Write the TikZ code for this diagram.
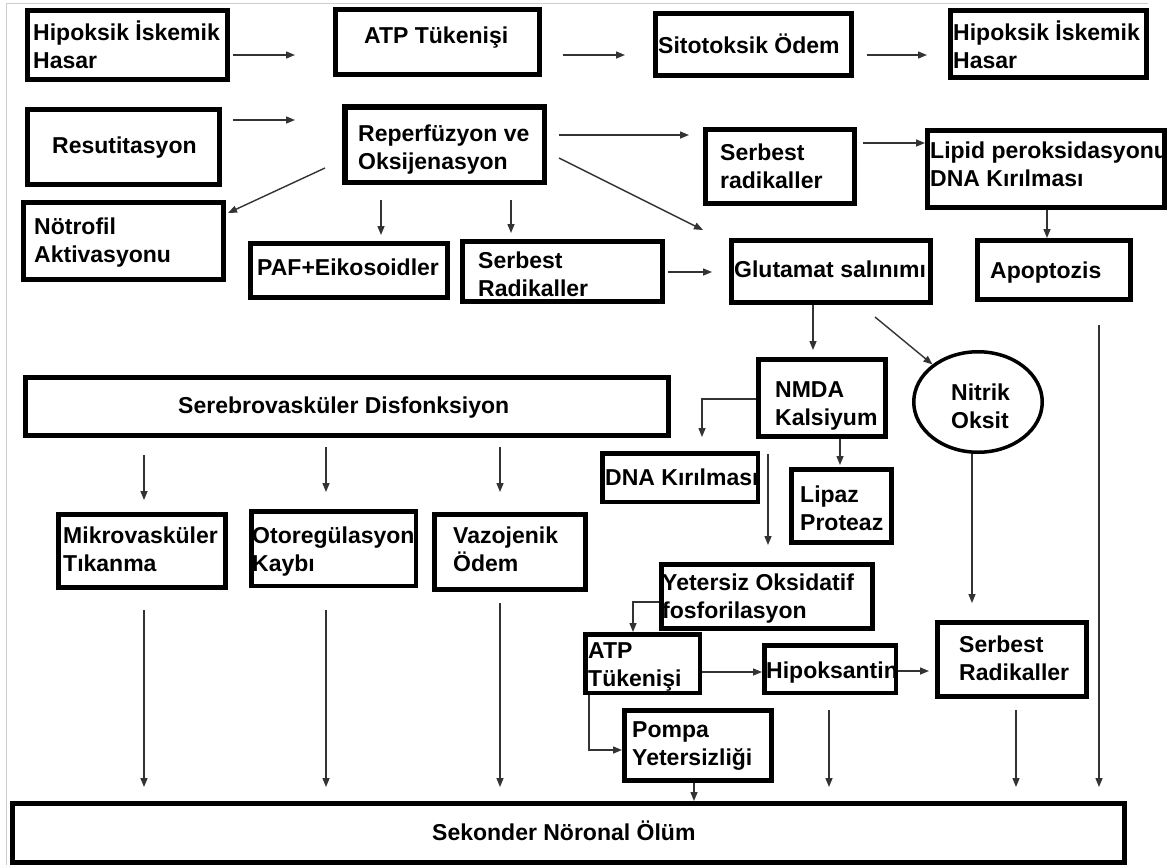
\documentclass[tikz,border=0pt]{standalone}
\usepackage{fontspec}
\setmainfont{Liberation Sans}
\usetikzlibrary{arrows.meta,calc,shapes.geometric}
\tikzset{
  box/.style={draw=black, fill=white, inner sep=0pt, rectangle},
  txt/.style={anchor=base west, inner sep=0pt, font=\fontsize{23}{28}\selectfont\bfseries},
  arr/.style={draw=black!80, line width=1.4pt, -{Triangle[length=9pt,width=7pt]}}
}
% name x1 y1 x2 y2 linewidth
\newcommand\mybx[6]{\node[box, line width=#6pt, minimum width={(#4-#2-#6)*1pt}, minimum height={(#5-#3-#6)*1pt}] (#1) at ({(#2+#4)/2},{(#3+#5)/2}) {};}
% name x baseline text
\newcommand\mytx[4]{\node[txt] (#1) at (#2,#3) {\begin{tabular}[t]{@{}l@{}}#4\end{tabular}};}
\begin{document}
\begin{tikzpicture}[x=1pt,y=-1pt]
\useasboundingbox (0,0) rectangle (1173,865);
\fill[white] (0,0) rectangle (1173,865);
\draw[black!20, line width=1pt] (6,865) -- (6,3) -- (1148,3);

% boxes
\mybx{h1}{25}{8}{230}{82}{5}
\mytx{h1t}{33}{40}{Hipoksik İskemik\\Hasar}
\mybx{atp1}{333}{7}{542}{77}{5}
\mytx{atp1t}{364}{43}{ATP Tükenişi}
\mybx{sito}{653}{11}{854}{78}{5}
\mytx{sitot}{658}{53}{Sitotoksik Ödem}
\mybx{h2}{948}{8}{1149}{80}{5}
\mytx{h2t}{953}{40}{Hipoksik İskemik\\Hasar}

\mybx{res}{25}{107}{222}{187}{5}
\mytx{rest}{52}{153}{Resutitasyon}
\mybx{rep}{342}{104}{547}{185}{5.5}
\mytx{rept}{358}{141}{Reperfüzyon ve\\Oksijenasyon}
\mybx{sr1}{703}{127}{857}{206}{5}
\mytx{sr1t}{720}{160}{Serbest\\radikaller}
\mybx{lip}{925}{128}{1167}{210}{5}
\mytx{lipt}{930}{158}{Lipid peroksidasyonu\\DNA Kırılması}

\mybx{notr}{21}{200}{226}{282}{5}
\mytx{notrt}{34}{234}{Nötrofil\\Aktivasyonu}
\mybx{paf}{248}{241}{450}{300}{5}
\mytx{paft}{257}{275}{PAF+Eikosoidler}
\mybx{sr2}{460}{239}{665}{304}{5}
\mytx{sr2t}{478}{268}{Serbest\\Radikaller}
\mybx{glut}{729}{238}{933}{305}{5}
\mytx{glutt}{734}{277}{Glutamat salınımı}
\mybx{apo}{975}{238}{1133}{302}{5}
\mytx{apot}{990}{278}{Apoptozis}

\mybx{serebro}{23}{375}{671}{438}{5}
\mytx{serebrot}{178}{413}{Serebrovasküler Disfonksiyon}
\mybx{nmda}{756}{357}{888}{439}{5}
\mytx{nmdat}{775}{397}{NMDA\\Kalsiyum}
\node[ellipse, draw=black, fill=white, line width=3.5pt, inner sep=0pt, minimum width=128.5pt, minimum height=100.5pt] (nitrik) at (978,402) {};
\mytx{nitrikt}{951}{400}{Nitrik\\Oksit}
\mybx{dna}{600}{451}{760}{504}{4.5}
\mytx{dnat}{605}{485}{DNA Kırılması}
\mybx{lipaz}{789}{467}{894}{545}{5}
\mytx{lipazt}{800}{502}{Lipaz\\Proteaz}

\mybx{mikro}{56}{512}{228}{590}{5}
\mytx{mikrot}{63}{543}{Mikrovasküler\\Tıkanma}
\mybx{oto}{249}{509}{418}{588}{4.5}
\mytx{otot}{252}{543}{Otoregülasyon\\Kaybı}
\mybx{vazo}{432}{512}{588}{592}{5}
\mytx{vazot}{453}{543}{Vazojenik\\Ödem}

\mybx{yet}{659}{562}{875}{631}{5}
\mytx{yett}{662}{590}{Yetersiz Oksidatif\\fosforilasyon}
\mybx{atp2}{583}{632}{702}{695}{4.5}
\mytx{atp2t}{588}{658}{ATP\\Tükenişi}
\mybx{hip}{762}{643}{898}{695}{4.5}
\mytx{hipt}{766}{678}{Hipoksantin}
\mybx{srr}{935}{620}{1089}{699}{5}
\mytx{srrt}{959}{652}{Serbest\\Radikaller}
\mybx{pompa}{622}{708}{774}{783}{5}
\mytx{pompat}{632}{737}{Pompa\\Yetersizliği}

\mybx{sek}{10}{801}{1127}{865}{5}
\mytx{sekt}{432}{840}{Sekonder Nöronal Ölüm}

% connectors
\draw[arr, shorten <=3pt, shorten >=38pt] (h1.east |- 0,55) -- (atp1.west |- 0,55);
\draw[arr, shorten <=21pt, shorten >=28pt] (atp1.east |- 0,55) -- (sito.west |- 0,55);
\draw[arr, shorten <=13pt, shorten >=21pt] (sito.east |- 0,55) -- (h2.west |- 0,55);
\draw[arr, shorten <=11pt, shorten >=47pt] (res.east |- 0,120) -- (rep.west |- 0,120);
\draw[arr, shorten <=12pt, shorten >=14pt] (rep.east |- 0,135) -- (sr1.west |- 0,135);
\draw[arr, shorten <=6pt] (sr1.east |- 0,143) -- (lip.west |- 0,143);
\draw[arr] (lip.south -| 1047,0) -- (apo.north -| 1047,0);
\draw[arr] ($(rep.north east)+(12,54)$) -- ($(glut.north west)+(-26,-8)$);
\draw[arr] ($(rep.south west)+(-17,-17)$) -- ($(notr.north east)+(2,13)$);
\draw[arr, shorten <=15pt, shorten >=6pt] (rep.south -| 381,0) -- (paf.north -| 381,0);
\draw[arr, shorten <=15pt, shorten >=6pt] (rep.south -| 511,0) -- (sr2.north -| 511,0);
\draw[arr, shorten <=3pt, shorten >=17pt] (sr2.east |- 0,272) -- (glut.west |- 0,272);
\draw[arr, shorten >=7pt] (glut.south -| 813,0) -- (nmda.north -| 813,0);
\draw[arr] ($(glut.south east)+(-58,12)$) -- (nitrik);
\draw[arr] (nmda.west |- 0,399) -| ($(dna.north -| 702,0)+(0,-14)$);
\draw[arr, shorten >=2pt] (nmda.south -| 840,0) -- (lipaz.north -| 840,0);
\draw[arr, shorten <=15pt, shorten >=17pt] (nmda.south -| 768,0) -- (yet.north -| 768,0);
\draw[arr, shorten >=17pt] (nitrik.south -| 972,0) -- (srr.north -| 972,0);
\draw[arr] (yet.west |- 0,602) -| (atp2.north -| 633,0);
\draw[arr] (atp2.east |- 0,672) -- (hip.west |- 0,672);
\draw[arr, shorten >=6pt] (hip.east |- 0,671) -- (srr.west |- 0,671);
\draw[arr] (atp2.south -| 589,0) |- (pompa.west |- 0,750);
\draw[arr] (pompa.south -| 694,0) -- (sek.north -| 694,0);
\draw[arr, shorten <=15pt, shorten >=14pt] (hip.south -| 829,0) -- (sek.north -| 829,0);
\draw[arr, shorten <=11pt, shorten >=14pt] (srr.south -| 1016,0) -- (sek.north -| 1016,0);
\draw[arr, shorten <=23pt, shorten >=14pt] (apo.south -| 1099,0) -- (sek.north -| 1099,0);
\draw[arr, shorten <=17pt, shorten >=12pt] (serebro.south -| 144,0) -- (mikro.north -| 144,0);
\draw[arr, shorten <=9pt, shorten >=17pt] (serebro.south -| 326,0) -- (oto.north -| 326,0);
\draw[arr, shorten <=9pt, shorten >=20pt] (serebro.south -| 500,0) -- (vazo.north -| 500,0);
\draw[arr, shorten <=20pt, shorten >=14pt] (mikro.south -| 144,0) -- (sek.north -| 144,0);
\draw[arr, shorten <=22pt, shorten >=14pt] (oto.south -| 326,0) -- (sek.north -| 326,0);
\draw[arr, shorten <=11pt, shorten >=14pt] (vazo.south -| 500,0) -- (sek.north -| 500,0);
\end{tikzpicture}
\end{document}
